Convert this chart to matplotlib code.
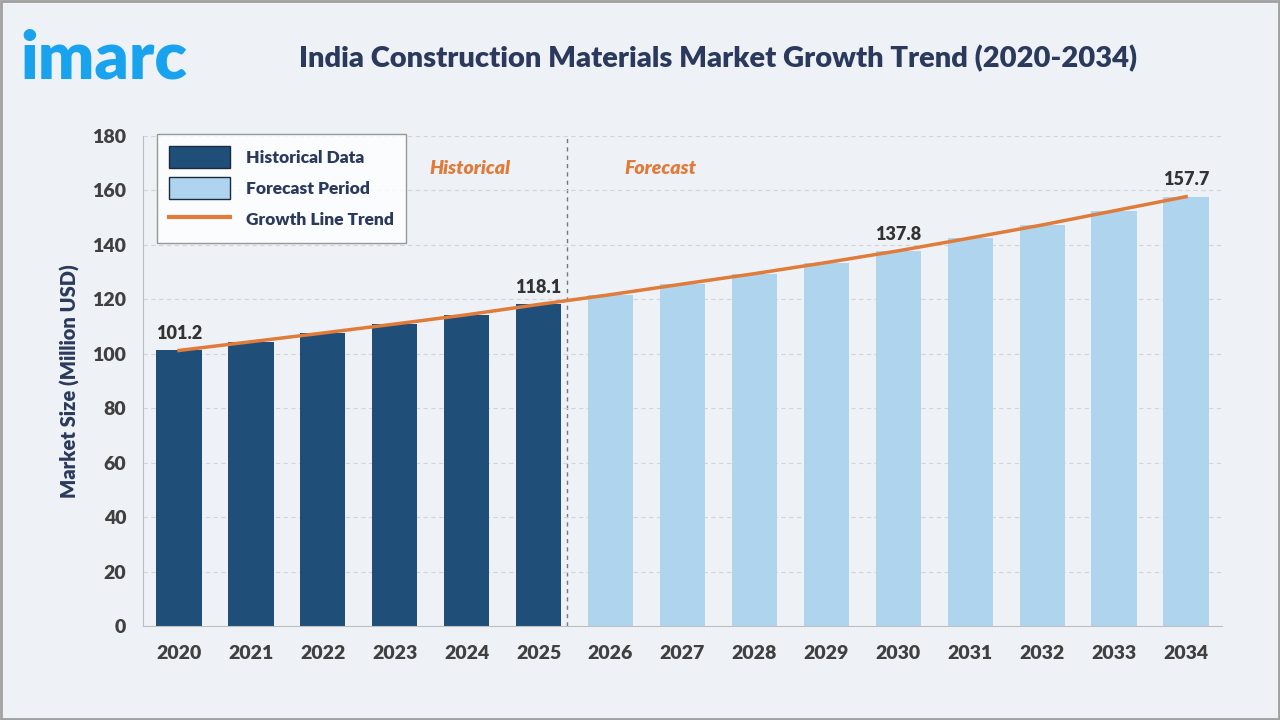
from matplotlib import pyplot as plt
from matplotlib.patches import Patch, Rectangle
from matplotlib.lines import Line2D

plt.rcParams['font.family'] = ['Lato', 'DejaVu Sans']

# market size values
years = ["2020", "2021", "2022", "2023", "2024", "2025", "2026", "2027",
         "2028", "2029", "2030", "2031", "2032", "2033", "2034"]
values = [101.2, 104.4, 107.6, 110.9, 114.3, 118.1, 121.7, 125.6,
          129.4, 133.5, 137.8, 142.5, 147.3, 152.5, 157.7]
n_hist = 6
labelled = ["2020", "2025", "2030", "2034"]

dark = "#1f4e79"
light = "#aed4ee"
orange = "#e07b39"
navy = "#2b3a5c"
bg = "#eef2f7"

fig = plt.figure(figsize=(12.8, 7.2), dpi=100, facecolor=bg)
fig.patches.append(Rectangle((0.001, 0.001), 0.998, 0.998, transform=fig.transFigure,
                             fill=False, edgecolor="#a0a0a0", linewidth=2))

ax = fig.add_axes([0.1117, 0.1306, 0.843, 0.6806])
ax.set_facecolor(bg)

x = list(range(len(years)))
colors = [dark if i < n_hist else light for i in x]
ax.bar(x, values, width=0.63, color=colors, zorder=2)
ax.plot(x, values, color=orange, linewidth=2.5, zorder=3)

for i, v in enumerate(values):
    if years[i] in labelled:
        ax.text(i, v + 3, f"{v:.1f}", ha="center", va="bottom", fontsize=13,
                fontweight="heavy", color="#333333", zorder=4)

ax.axvline(5.4, color="#777777", linestyle=(0, (3, 3)), linewidth=1, zorder=1)
ax.text(4.05, 168, "Historical", color=orange, fontsize=14, fontweight="heavy",
        style="italic", ha="center", va="center")
ax.text(6.7, 168, "Forecast", color=orange, fontsize=14, fontweight="heavy",
        style="italic", ha="center", va="center")

ax.set_xlim(-0.5, 14.5)
ax.set_ylim(0, 180)
ax.set_yticks(range(0, 181, 20))
ax.set_xticks(x)
ax.set_xticklabels(years)
ax.grid(axis="y", color="#cfd5dd", linestyle=(0, (4, 3)), linewidth=0.8, zorder=0)
ax.tick_params(axis="x", length=0, labelsize=14, labelcolor="#404040", pad=14)
ax.tick_params(axis="y", length=0, labelsize=14, labelcolor="#404040", pad=12)
for lab in ax.get_xticklabels() + ax.get_yticklabels():
    lab.set_fontweight("heavy")
for s in ["top", "right"]:
    ax.spines[s].set_visible(False)
ax.spines["left"].set_color("#bfbfbf")
ax.spines["bottom"].set_color("#bfbfbf")
ax.set_ylabel("Market Size (Million USD)", fontsize=14.5, fontweight="heavy",
              color=navy, labelpad=9)

handles = [Patch(facecolor=dark, edgecolor="#1a2a40"),
           Patch(facecolor=light, edgecolor="#1a2a40"),
           Line2D([0], [0], color=orange, linewidth=3)]
leg = ax.legend(handles, ["Historical Data", "Forecast Period", "Growth Line Trend"],
                loc="upper left", bbox_to_anchor=(0.013, 1.004), borderaxespad=0,
                fontsize=12.5, frameon=True, fancybox=False, edgecolor="#808080",
                handlelength=3.5, handleheight=1.6, labelspacing=0.5,
                borderpad=0.7, handletextpad=0.9)
leg.get_frame().set_linewidth(1)
for t in leg.get_texts():
    t.set_color(navy)
    t.set_fontweight("heavy")

fig.text(0.561, 0.918, "India Construction Materials Market Growth Trend (2020-2034)",
         ha="center", va="center", fontsize=21, fontweight="heavy", color=navy)
fig.text(0.016, 0.918, "imarc", ha="left", va="center", fontsize=48,
         fontweight="heavy", color="#19a3ee")

plt.savefig("out.png", dpi=100, facecolor=bg)
